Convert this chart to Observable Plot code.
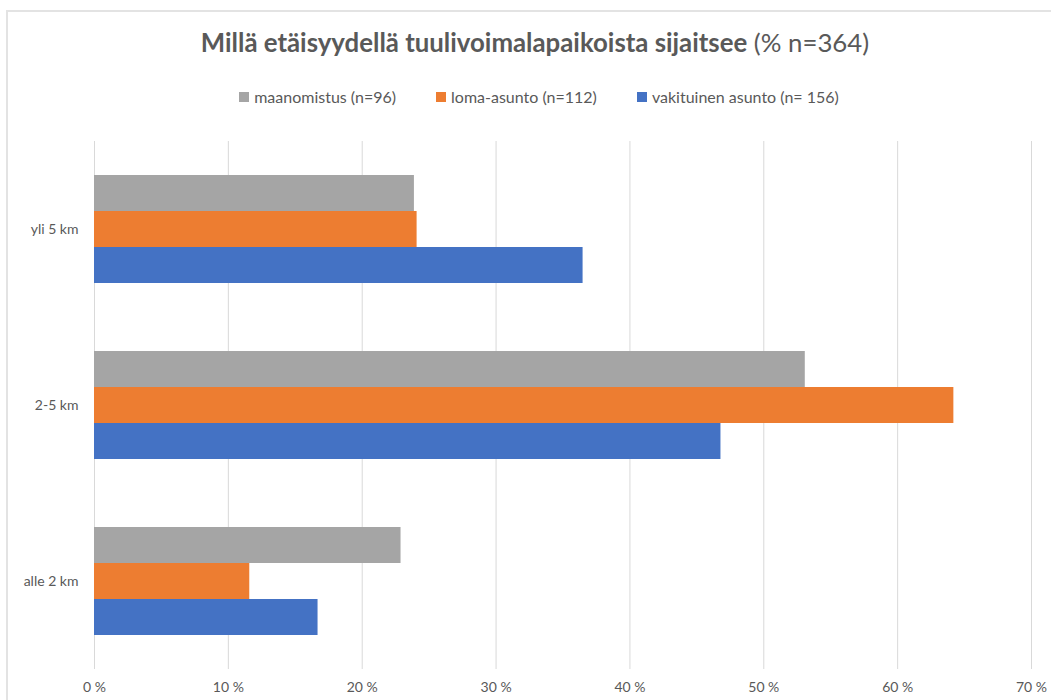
<!DOCTYPE html>
<html>
<head>
<meta charset="utf-8">
<script src="https://cdn.jsdelivr.net/npm/d3@7"></script>
<script src="https://cdn.jsdelivr.net/npm/@observablehq/plot@0.6"></script>
<style>
  html, body { margin: 0; padding: 0; background: #fff; }
  body { width: 1051px; height: 700px; position: relative; overflow: hidden; font-family: Lato, "Open Sans", sans-serif; color: #595959; }
  #frame { position: absolute; left: 6px; top: 10px; width: 1100px; height: 800px; border: 2px solid #e3e3e3; box-sizing: border-box; }
  #title { position: absolute; left: 0; top: 26px; width: 1070px; text-align: center; font-size: 25.8px; line-height: 32px; color: #595959; }
  #title b { font-weight: 700; }
  #legend { position: absolute; left: 0; top: 86px; width: 1078px; display: flex; justify-content: center; gap: 40px; font-size: 16px; line-height: 22px; color: #595959; }
  #legend .item { display: flex; align-items: center; gap: 5px; }
  #legend .sw { width: 10px; height: 10px; display: inline-block; }
  #chart { position: absolute; left: 0; top: 120px; }
</style>
</head>
<body>
<div id="frame"></div>
<div id="title"><b>Millä etäisyydellä tuulivoimalapaikoista sijaitsee</b> (% n=364)</div>
<div id="legend"></div>
<div id="chart"></div>
<script>
const categories = ["yli 5 km", "2-5 km", "alle 2 km"];
const series = ["maanomistus (n=96)", "loma-asunto (n=112)", "vakituinen asunto (n= 156)"];
const colors = ["#A5A5A5", "#ED7D31", "#4472C4"];
const maanomistus = [23.9, 53.1, 22.9];
const lomaAsunto = [24.1, 64.2, 11.6];
const vakituinenAsunto = [36.5, 46.8, 16.7];
const xTicks = [0, 10, 20, 30, 40, 50, 60, 70];

const seriesValues = [maanomistus, lomaAsunto, vakituinenAsunto];
const data = categories.flatMap((c, i) =>
  series.map((s, j) => ({category: c, series: s, value: seriesValues[j][i]}))
);

const legend = document.getElementById("legend");
series.forEach((s, j) => {
  const it = document.createElement("div");
  it.className = "item";
  const sw = document.createElement("span");
  sw.className = "sw";
  sw.style.background = colors[j];
  const tx = document.createElement("span");
  tx.textContent = s;
  it.appendChild(sw);
  it.appendChild(tx);
  legend.appendChild(it);
});

const chart = Plot.plot({
  width: 1051,
  height: 580,
  marginTop: 21,
  marginBottom: 31,
  marginLeft: 94,
  marginRight: 20,
  style: {fontFamily: "Lato, 'Open Sans', sans-serif", fontSize: "14px", color: "#595959", background: "transparent", overflow: "visible"},
  x: {domain: [0, 70], ticks: xTicks, tickFormat: d => d + " %", tickSize: 0, tickPadding: 13, label: null},
  fy: {domain: categories, padding: 0, label: null, tickSize: 0, tickPadding: 16, axis: "left"},
  y: {domain: series, axis: null, paddingInner: 0, paddingOuter: 0.9},
  color: {domain: series, range: colors},
  marks: [
    Plot.ruleX(xTicks, {stroke: "#d9d9d9", strokeWidth: 1}),
    Plot.barX(data, {x: "value", y: "series", fy: "category", fill: "series"})
  ]
});
document.getElementById("chart").appendChild(chart);
</script>
</body>
</html>
